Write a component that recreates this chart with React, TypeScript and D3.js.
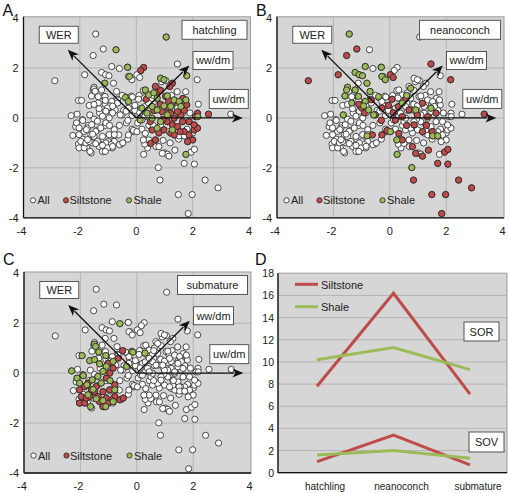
import React from "react";
import * as d3 from "d3";

type P = [number, number];

// ---- PCA scores ----
const hatchlingSiltstone: P[] = [
  [0.26, 2.02], [0.16, 1.9], [1.28, 1.39], [1.19, 1.26], [0.68, 1.26], [0.74, 1.03], [0.86, 1.1], [1.04, 0.86],
  [1.28, 0.59], [1.53, 0.63], [1.79, 0.52], [1.65, 0.78], [2.17, 0.19], [2.56, 0.15], [1.58, 0.12], [1.34, -0.01],
  [1.1, -0.15], [1.28, -0.28], [1.46, -0.35], [0.98, -0.48], [0.8, -0.6], [0.56, -0.48], [0.68, -0.88], [0.5, -1.02],
  [1.22, -0.61], [1.7, -0.55], [1.87, -0.68], [2.05, -0.48], [2.17, -0.41], [2.0, -0.88], [1.82, -0.95], [1.35, -0.68],
  [1.64, -0.15], [1.87, -0.15], [2.05, -0.28], [1.46, 0.25], [1.22, 0.19], [0.92, 0.25], [1.1, 0.43], [0.5, -0.15],
  [0.62, 0.3], [0.95, -0.05], [1.15, 0.7], [1.7, 0.3], [2.1, 0.05], [1.55, -0.55], [0.35, 0.75], [0.85, 0.55],
];
const hatchlingShale: P[] = [
  [1.06, 3.24], [-0.72, 2.73], [-0.31, 2.03], [-0.24, 1.66], [-1.12, 1.39], [-0.39, 0.82], [-0.28, 0.66], [1.79, 1.69],
  [0.86, 1.59], [0.98, 1.53], [0.32, 1.12], [0.44, 0.92], [0.62, 1.0], [0.74, 0.79], [1.1, 0.88], [1.34, 0.72],
  [1.52, 0.66], [1.76, 0.72], [1.58, 0.46], [0.56, 0.46], [0.2, 0.39], [0.38, 0.19], [0.74, 0.32], [0.98, 0.48],
  [1.22, 0.46], [0.56, -0.01], [0.86, -0.15], [0.74, -0.41], [1.28, -0.48], [2.18, 0.05], [1.76, -1.46], [1.1, 0.12],
  [0.14, -0.08],
];
const neanoconchSiltstone: P[] = [
  [-2.89, 1.49], [-1.17, 2.76], [-1.53, 2.5], [-1.83, 1.73], [1.46, 2.16], [2.16, 1.53], [3.35, 0.15], [0.02, 1.73],
  [0.12, 1.62], [-0.66, 0.72], [-1.0, 0.39], [-0.28, -0.68], [-0.1, -0.5], [0.08, 0.75], [0.2, -0.08], [0.44, 0.05],
  [0.68, 0.32], [0.86, -0.28], [0.98, 0.12], [1.16, 0.59], [1.16, -0.55], [1.34, 0.05], [1.64, 0.19], [0.32, -0.62],
  [0.44, -0.88], [0.8, -1.15], [0.92, -1.42], [1.16, -1.53], [1.37, -1.29], [1.7, -1.82], [1.94, -1.37], [2.06, -1.26],
  [2.06, -1.85], [0.84, -2.49], [2.44, -2.49], [2.9, -2.8], [1.49, -3.07], [1.98, -3.07], [1.84, -3.83], [-0.62, -0.68],
  [-0.28, 0.39], [-0.51, 0.12], [0.12, 0.21], [-0.05, 0.5], [0.3, 0.45], [0.6, -0.3], [1.3, -0.3], [-0.3, -0.1],
  [-1.1, 0.55], [-0.9, 0.2], [0.55, 0.75], [1.5, -0.55],
];
const neanoconchShale: P[] = [
  [-1.44, 3.36], [-0.87, 2.06], [-0.3, 2.03], [-1.23, 1.82], [-1.09, 1.73], [-0.97, 1.69], [-0.28, 1.66], [-0.16, 1.53],
  [-1.5, 1.23], [-1.53, 1.12], [-1.59, 0.88], [-1.23, 1.12], [-0.7, 1.06], [-0.81, 1.39], [-1.11, 0.86], [-0.87, 0.66],
  [-0.93, 0.48], [-0.75, 0.32], [-0.57, 0.12], [-1.65, 0.12], [-0.81, -0.72], [0.02, -0.55], [0.25, -0.88], [0.26, -1.46],
  [0.78, -1.99], [0.74, 1.19], [0.44, 0.59], [0.92, 0.32], [1.46, 0.39], [1.52, -0.72], [1.7, -0.72], [-0.4, 0.85],
  [-1.35, 0.6], [0.6, 0.9],
];
const submatureSiltstone: P[] = [
  [-0.66, 0.6], [-1.02, 0.4], [-0.84, 0.2], [-0.96, 0.0], [-1.08, -0.2], [-0.78, -0.47], [-0.78, -0.94], [-0.6, -1.07],
  [-0.48, -1.0], [-0.9, -1.07], [-1.91, -0.07], [-2.03, -0.67], [-1.97, -0.94], [-2.03, -1.2], [-1.85, -1.2], [-1.79, -1.0],
  [-1.61, -0.67], [-1.67, -0.94], [-1.5, -0.74], [-1.38, -0.94], [-1.32, -1.14], [-1.08, -1.0], [-1.2, -0.74], [-0.96, -0.67],
  [-1.02, -1.2], [-1.73, -0.4], [-1.44, -0.54], [-1.85, -0.54], [-1.2, -1.34], [-0.5, 0.9],
];
const submatureShale: P[] = [
  [-0.6, 1.98], [-1.5, 1.16], [-1.46, 1.07], [-1.94, 0.7], [-2.31, 0.09], [-1.67, 0.5], [-1.5, 0.54], [-1.32, 0.37],
  [-1.08, 0.27], [-0.84, 0.47], [-1.1, 0.7], [-0.18, 0.87], [-0.36, 0.27], [-2.12, -0.2], [-2.03, -0.4], [-1.77, -0.47],
  [-1.58, -0.27], [-1.38, -0.13], [-1.26, -0.4], [-1.73, -0.87], [-1.44, -1.03], [-1.2, -1.1], [-1.1, -1.34], [-1.64, -1.34],
  [-0.84, -1.14], [-0.78, -0.67], [-0.14, 0.84], [0.29, 0.8], [-1.2, 0.07], [-1.9, -0.1], [-1.55, -0.65], [-0.95, -0.3],
  [-1.35, 0.85],
];
// specimens shown only as "All"
const otherSpecimens: P[] = [
  [-2.05, 0.7], [-2.1, 0.15], [-2.15, -0.35], [-1.9, -0.85], [-2.05, -1.05],
  [-1.75, -1.2], [-1.55, -1.0], [-1.4, -0.5], [-1.7, -0.3], [-1.5, -0.05], [-1.3, 0.2],
  [-1.1, -0.3], [-1.0, -0.95], [-0.85, -1.2], [-0.55, -1.05], [-0.3, -0.85], [-0.15, -0.45],
  [-0.6, -0.3], [-0.45, 0.3], [-1.15, 0.85], [-0.7, 0.75], [-0.25, 0.55],
  [-0.15, 0.1], [-1.3, -1.05], [-1.15, -1.35], [-1.6, -1.4], [-0.35, -0.2], [-2.25, -0.7],
  [0.1, 0.9], [0.25, 1.1], [0.4, 0.5], [0.15, 0.35], [0.3, 0.05], [-0.05, 0.3], [0.05, -0.2], [0.2, -0.45],
  [0.45, -0.3], [0.6, 0.6], [0.9, 1.45], [1.05, 1.5], [1.25, 0.9], [1.45, 1.05], [1.6, 0.5], [1.9, 0.2],
  [2.1, -0.35], [1.8, -0.45], [1.5, -0.85], [1.2, -1.0], [0.95, -0.9], [0.7, -1.15], [0.4, -1.2], [0.3, -1.05],
  [-0.1, -0.55], [1.0, -1.4], [1.1, -1.45], [2.0, -0.6], [2.2, 0.55], [1.75, 1.05],
];

const loadingNames = ["WER", "ww/dm", "uw/dm"];
const loadingX = [-2.43, 1.88, 3.78];
const loadingY = [2.73, 2.1, 0];
const scatterTicks = [-4, -2, 0, 2, 4];
const legendNames = ["All", "Siltstone", "Shale"];

// ---- panel D ----
const stages = ["hatchling", "neanoconch", "submature"];
const sorSiltstone = [7.8, 16.2, 7.1];
const sorShale = [10.2, 11.3, 9.3];
const sovSiltstone = [1.0, 3.4, 0.7];
const sovShale = [1.6, 2.0, 1.3];
const lineTicks = [0, 2, 4, 6, 8, 10, 12, 14, 16, 18];

const RED = "#bd4c4a";
const GREEN = "#9bbb59";
const BG = "#d6d6d6";
const GRID = "#b4b4b4";
const FONT = "'Liberation Sans', Arial, sans-serif";

const allPoints: P[] = [
  ...otherSpecimens, ...hatchlingSiltstone, ...hatchlingShale, ...neanoconchSiltstone,
  ...neanoconchShale, ...submatureSiltstone, ...submatureShale,
];

function Box({ cx, cy, w, h, label }: { cx: number; cy: number; w: number; h: number; label: string }) {
  return (
    <g>
      <rect x={cx - w / 2} y={cy - h / 2} width={w} height={h} fill="#fff" stroke="#555" strokeWidth={1} />
      <text x={cx} y={cy + 4} textAnchor="middle" fontSize={11} fontFamily={FONT} fill="#222">{label}</text>
    </g>
  );
}

function Scatter({ L, T, letter, letterY, stage, sil, sha, labelW }: {
  L: number; T: number; letter: string; letterY: number; stage: string; sil: P[]; sha: P[]; labelW: number;
}) {
  const W = 227, H = 201;
  const x = d3.scaleLinear().domain([-4, 4.05]).range([L, L + W]);
  const y = d3.scaleLinear().domain([-4, 4.05]).range([T + H, T]);
  const r = 3.1;
  const grid = [-2, 0, 2];
  const arrows = loadingNames.map((n, i) => ({ n, x: loadingX[i], y: loadingY[i] }));
  const labelPos: Record<string, [number, number, number, number]> = {
    "WER": [-2.75, 3.33, 39, 17],
    "ww/dm": [2.72, 2.3, 40, 18],
    "uw/dm": [3.28, 0.76, 39, 19],
  };
  const legY = y(-3.3);
  return (
    <g>
      <rect x={L} y={T} width={W} height={H} fill={BG} stroke="#9a9a9a" strokeWidth={1} />
      {grid.map((g) => (
        <line key={"gx" + g} x1={x(g)} x2={x(g)} y1={T} y2={T + H} stroke={GRID} strokeWidth={1} />
      ))}
      {grid.map((g) => (
        <line key={"gy" + g} x1={L} x2={L + W} y1={y(g)} y2={y(g)} stroke={GRID} strokeWidth={1} />
      ))}
      <line x1={L} x2={L} y1={T} y2={T + H} stroke="#111" strokeWidth={1.3} />
      <line x1={L} x2={L + W} y1={T + H} y2={T + H} stroke="#111" strokeWidth={1.3} />
      {scatterTicks.map((t) => (
        <text key={"yt" + t} x={L - 5} y={y(t) + 4} textAnchor="end" fontSize={11} fontFamily={FONT} fill="#222">{t}</text>
      ))}
      {scatterTicks.map((t) => (
        <text key={"xt" + t} x={x(t) - (t < 0 ? 2 : 0)} y={T + H + 17} textAnchor="middle" fontSize={11} fontFamily={FONT} fill="#222">{t}</text>
      ))}
      {allPoints.map((p, i) => (
        <circle key={"a" + i} cx={x(p[0])} cy={y(p[1])} r={r} fill="#fff" stroke="#222" strokeWidth={0.8} />
      ))}
      {sil.map((p, i) => (
        <circle key={"s" + i} cx={x(p[0])} cy={y(p[1])} r={r} fill={RED} stroke="#222" strokeWidth={0.8} />
      ))}
      {sha.map((p, i) => (
        <circle key={"h" + i} cx={x(p[0])} cy={y(p[1])} r={r} fill={GREEN} stroke="#222" strokeWidth={0.8} />
      ))}
      {arrows.map((a) => {
        const x0 = x(0), y0 = y(0), x1 = x(a.x), y1 = y(a.y);
        const ang = Math.atan2(y1 - y0, x1 - x0);
        const len = 11, hw = 4.5;
        const bx = x1 - len * Math.cos(ang), by = y1 - len * Math.sin(ang);
        const px = -Math.sin(ang) * hw, py = Math.cos(ang) * hw;
        return (
          <g key={a.n}>
            <line x1={x0} y1={y0} x2={bx + Math.cos(ang) * 2} y2={by + Math.sin(ang) * 2} stroke="#111" strokeWidth={1.3} />
            <path d={`M${x1},${y1}L${bx + px},${by + py}L${bx + Math.cos(ang) * 3},${by + Math.sin(ang) * 3}L${bx - px},${by - py}Z`} fill="#111" />
          </g>
        );
      })}
      {loadingNames.map((n) => {
        const [lx, ly, w, h] = labelPos[n];
        return <Box key={"b" + n} cx={x(lx)} cy={y(ly)} w={w} h={h} label={n} />;
      })}
      <Box cx={L + W - 3.5 - labelW / 2} cy={T + 13} w={labelW} h={19} label={stage} />
      <g fontSize={11} fontFamily={FONT} fill="#222">
        <circle cx={L + 9.5} cy={legY} r={2.6} fill="#fff" stroke="#222" strokeWidth={0.8} />
        <text x={L + 14} y={legY + 4}>{legendNames[0]}</text>
        <circle cx={L + 42.5} cy={legY} r={2.6} fill={RED} stroke="#222" strokeWidth={0.8} />
        <text x={L + 46} y={legY + 4}>{legendNames[1]}</text>
        <circle cx={L + 105.5} cy={legY} r={2.6} fill={GREEN} stroke="#222" strokeWidth={0.8} />
        <text x={L + 110} y={legY + 4}>{legendNames[2]}</text>
      </g>
      <text x={L - 21} y={letterY} fontSize={16} fontFamily={FONT} fill="#111">{letter}</text>
    </g>
  );
}

function LinePanel() {
  const L = 278, R = 507, T = 273.3, B = 472.7;
  const y = d3.scaleLinear().domain([0, 18]).range([B, T]);
  const x = d3.scalePoint<string>().domain(stages).range([317, 470]);
  const line = d3.line<number>().x((_, i) => x(stages[i]) as number).y((d) => y(d));
  const series = [
    { v: sorSiltstone, c: RED }, { v: sorShale, c: GREEN },
    { v: sovSiltstone, c: RED }, { v: sovShale, c: GREEN },
  ];
  return (
    <g>
      <rect x={L} y={T} width={R - L} height={B - T} fill={BG} stroke="#9a9a9a" strokeWidth={1} />
      {lineTicks.map((t) => (
        <line key={"g" + t} x1={L} x2={R} y1={y(t)} y2={y(t)} stroke={GRID} strokeWidth={1} />
      ))}
      <line x1={L} x2={L} y1={T} y2={B} stroke="#111" strokeWidth={1.3} />
      <line x1={L} x2={R} y1={B} y2={B} stroke="#111" strokeWidth={1.3} />
      {lineTicks.map((t) => (
        <text key={"t" + t} x={L - 4} y={y(t) + 4} textAnchor="end" fontSize={10.5} fontFamily={FONT} fill="#222">{t}</text>
      ))}
      {stages.map((s) => (
        <text key={s} x={(x(s) as number) + 8} y={B + 17} textAnchor="middle" fontSize={10} fontFamily={FONT} fill="#222">{s}</text>
      ))}
      {series.map((s, i) => (
        <path key={i} d={line(s.v) || ""} fill="none" stroke={s.c} strokeWidth={3} />
      ))}
      <line x1={295} x2={318} y1={284.3} y2={284.3} stroke={RED} strokeWidth={3} />
      <text x={321} y={288.5} fontSize={11} fontFamily={FONT} fill="#222">Siltstone</text>
      <line x1={295} x2={318} y1={306.7} y2={306.7} stroke={GREEN} strokeWidth={3} />
      <text x={321} y={311} fontSize={11} fontFamily={FONT} fill="#222">Shale</text>
      <Box cx={481.5} cy={331.5} w={35} h={19} label="SOR" />
      <Box cx={486.5} cy={442} w={35} h={20} label="SOV" />
      <text x={255} y={265} fontSize={16} fontFamily={FONT} fill="#111">D</text>
    </g>
  );
}

export default function App() {
  return (
    <svg width={510} height={493} style={{ position: "absolute", left: 0, top: 0, background: "#fff" }}>
      <rect x={0} y={0} width={510} height={493} fill="#fff" />
      <Scatter L={23.5} T={16.8} letter="A" letterY={16} stage="hatchling" sil={hatchlingSiltstone} sha={hatchlingShale} labelW={65} />
      <Scatter L={277} T={16.8} letter="B" letterY={16} stage="neanoconch" sil={neanoconchSiltstone} sha={neanoconchShale} labelW={81} />
      <Scatter L={24} T={272} letter="C" letterY={265} stage="submature" sil={submatureSiltstone} sha={submatureShale} labelW={70} />
      <LinePanel />
    </svg>
  );
}
